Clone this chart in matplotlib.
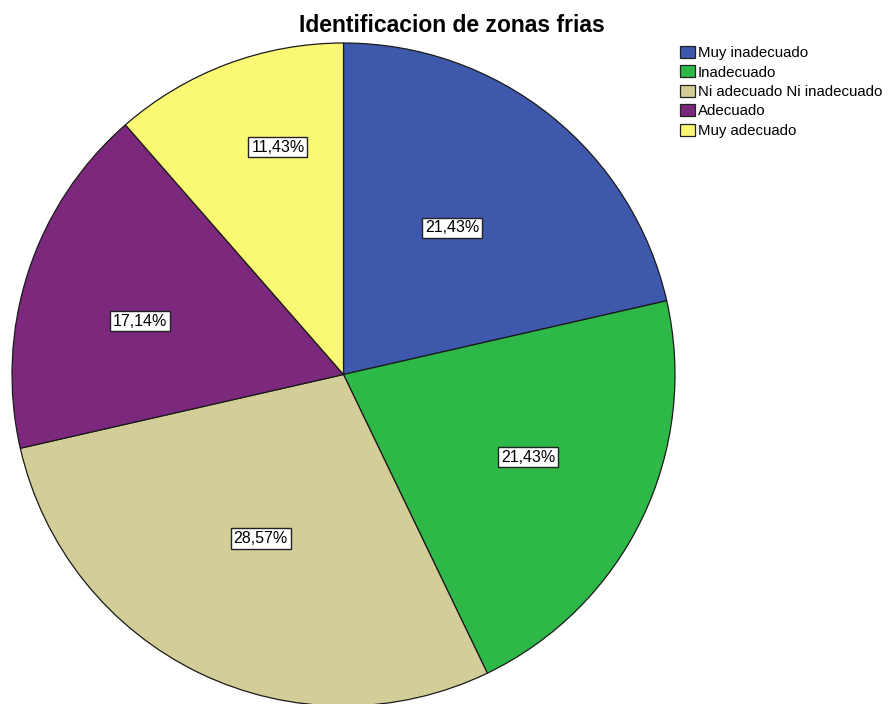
import numpy as np
import matplotlib.pyplot as plt
from matplotlib.patches import Patch

categories = ['Muy inadecuado', 'Inadecuado', 'Ni adecuado Ni inadecuado',
              'Adecuado', 'Muy adecuado']
counts = [15, 15, 20, 12, 8]
colors = ['#3E58AC', '#2EB848', '#D3CE97', '#7C287D', '#FBF873']
# placement of each percentage box: fraction of radius, and turn (degrees)
# away from the wedge's middle
label_dist = [0.55, 0.61, 0.555, 0.635, 0.714]
label_turn = [2.1, 1.6, -1.1, 3.3, -4.5]

plt.rcParams['font.family'] = ['Liberation Sans', 'DejaVu Sans']

W, H = 892, 704
cx, cy, r = 343.5, 374.5, 331.5
fig = plt.figure(figsize=(W / 100, H / 100), dpi=100)
ax = fig.add_axes([(cx - r) / W, 1 - (cy + r) / H, 2 * r / W, 2 * r / H])


def pct_label(p):
    return '{:.2f}%'.format(p).replace('.', ',')


wedges, texts, autotexts = ax.pie(
    counts, colors=colors, startangle=90, counterclock=False,
    autopct=pct_label, radius=1,
    wedgeprops=dict(edgecolor='#1a1a1a', linewidth=0.9),
    textprops=dict(fontsize=11.5, color='black'))
for w, t, d, turn in zip(wedges, autotexts, label_dist, label_turn):
    mid = np.radians((w.theta1 + w.theta2) / 2 + turn)
    t.set_position((d * np.cos(mid), d * np.sin(mid)))
    t.set_bbox(dict(facecolor='white', edgecolor='#222222', linewidth=1.0,
                    boxstyle='square,pad=0.18'))
ax.set_xlim(-1, 1)
ax.set_ylim(-1, 1)
ax.set_aspect('equal')
ax.axis('off')

fig.text(452 / W, 1 - 26 / H, 'Identificacion de zonas frias',
         ha='center', va='center', fontsize=16.5, fontweight='bold')

handles = [Patch(facecolor=c, edgecolor='#222222', linewidth=0.9) for c in colors]
fig.legend(handles, categories, loc='upper left',
           bbox_to_anchor=(677 / W, 1 - 43 / H), frameon=False,
           fontsize=10.8, handlelength=1.0, handleheight=0.85,
           handletextpad=0.2, labelspacing=0.35, borderaxespad=0,
           borderpad=0.2)

fig.savefig('out.png', dpi=100, facecolor='white')
